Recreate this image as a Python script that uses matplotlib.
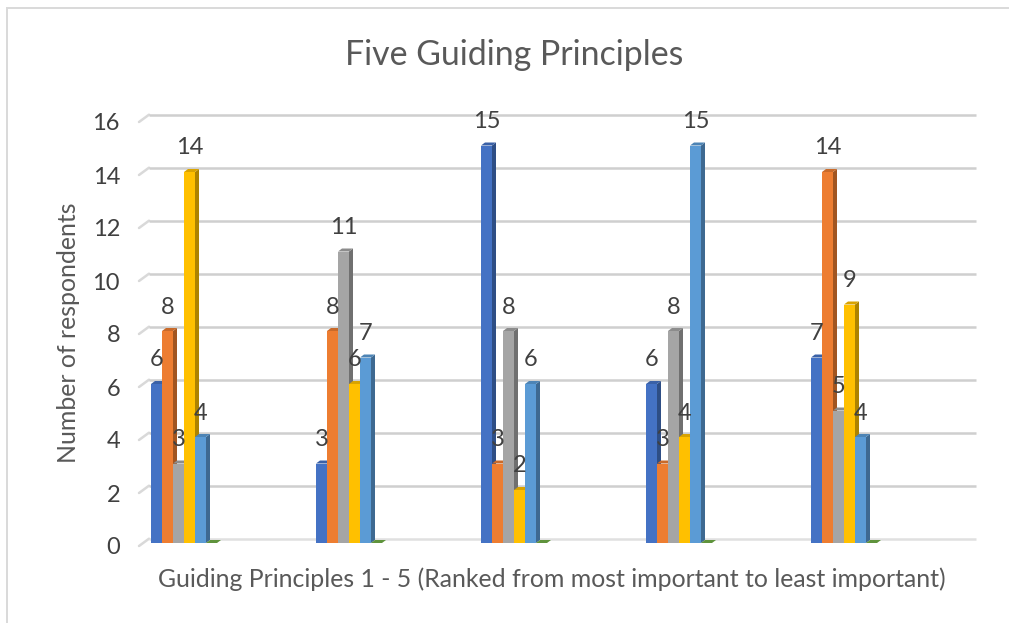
import matplotlib
matplotlib.use("Agg")
import matplotlib.pyplot as plt
from matplotlib.patches import Polygon, Rectangle
import matplotlib.colors as mc

title = "Five Guiding Principles"
xlabel = "Guiding Principles 1 - 5 (Ranked from most important to least important)"
ylabel = "Number of respondents"
yticks = [0, 2, 4, 6, 8, 10, 12, 14, 16]
series_1 = [6, 3, 15, 6, 7]
series_2 = [8, 8, 3, 3, 14]
series_3 = [3, 11, 8, 8, 5]
series_4 = [14, 6, 2, 4, 9]
series_5 = [4, 7, 6, 15, 4]
series_6 = [0, 0, 0, 0, 0]
all_series = [series_1, series_2, series_3, series_4, series_5, series_6]
colors = ["#4472c4", "#ed7d31", "#a5a5a5", "#ffc000", "#5b9bd5", "#70ad47"]

W, H = 1009, 623
plt.rcParams["font.family"] = ["Lato", "DejaVu Sans"]
fig = plt.figure(figsize=(W / 100, H / 100), dpi=100, facecolor="white")
L, R, T, B = 139, 964, 119, 543
ax = fig.add_axes([L / W, 1 - B / H, (R - L) / W, (B - T) / H])
ax.set_xlim(-0.5, 4.5)
ax.set_ylim(0, 16)
ax.axis("off")

px = (R - L) / 5          # pixels per category
py = (B - T) / 16         # pixels per value unit
bdx, bdy = 4 / px, 3 / py    # bar depth
bw = 11 / px
start = -70.5 / px
wall_x0, wall_x1, wall_x2 = -0.5, -0.5 + 10 / px, 4.5 + 12 / px
front_off, back_off = -3 / py, 4.3 / py
tick_off = -5 / py

def shade(c, f):
    r, g, b = mc.to_rgb(c)
    return (r * f, g * f, b * f)

# Frame
fig.add_artist(Rectangle((7 / W, -0.1), 1.2, 1.1 - 7.5 / H, transform=fig.transFigure,
                         fill=False, ec="#d9d9d9", lw=1.4))

# Walls
for t in yticks:
    c = "#e0e0e0" if t == 0 else "#cfcfcf"
    ax.plot([wall_x0, wall_x1], [t + front_off, t + back_off], color="#d9d9d9", lw=1.8,
            clip_on=False, solid_capstyle="round", zorder=1)
    ax.plot([wall_x1, wall_x2], [t + back_off, t + back_off], color=c, lw=1.8, clip_on=False,
            solid_capstyle="butt", zorder=1)
    ax.text(wall_x0 - 19 / px, t + tick_off, str(t), ha="right", va="center", fontsize=17,
            color="#404040")

# Bars
for j, (vals, col) in enumerate(zip(all_series, colors)):
    for i, v in enumerate(vals):
        x = i + start + j * bw
        z = 3 + j * 0.1
        if v > 0:
            ax.bar(x, v, width=bw, align="edge", color=col, lw=0, zorder=z, clip_on=False)
            ax.add_patch(Polygon([(x + bw, 0), (x + bw + bdx, bdy), (x + bw + bdx, v + bdy), (x + bw, v)],
                                 fc=shade(col, 0.68), lw=0, zorder=z - 0.05, clip_on=False))
        ax.add_patch(Polygon([(x, v), (x + bdx, v + bdy), (x + bw + bdx, v + bdy), (x + bw, v)],
                             fc=shade(col, 0.85), lw=0, zorder=z - 0.05, clip_on=False))
        if v > 0:
            ax.annotate(str(v), (x + bw / 2, v), xytext=(0, 24 * 0.72), textcoords="offset points",
                        ha="center", va="center", fontsize=17, color="#404040", zorder=10,
                        annotation_clip=False)

fig.text(514 / W, 1 - 55 / H, title, ha="center", va="center", fontsize=24.4, color="#595959")
fig.text(552 / W, 1 - 579 / H, xlabel, ha="center", va="center", fontsize=17.9, color="#595959")
fig.text(69 / W, 1 - 333 / H, ylabel, ha="center", va="center", rotation=90, fontsize=17.9,
         color="#595959")

fig.savefig("out.png", dpi=100)
